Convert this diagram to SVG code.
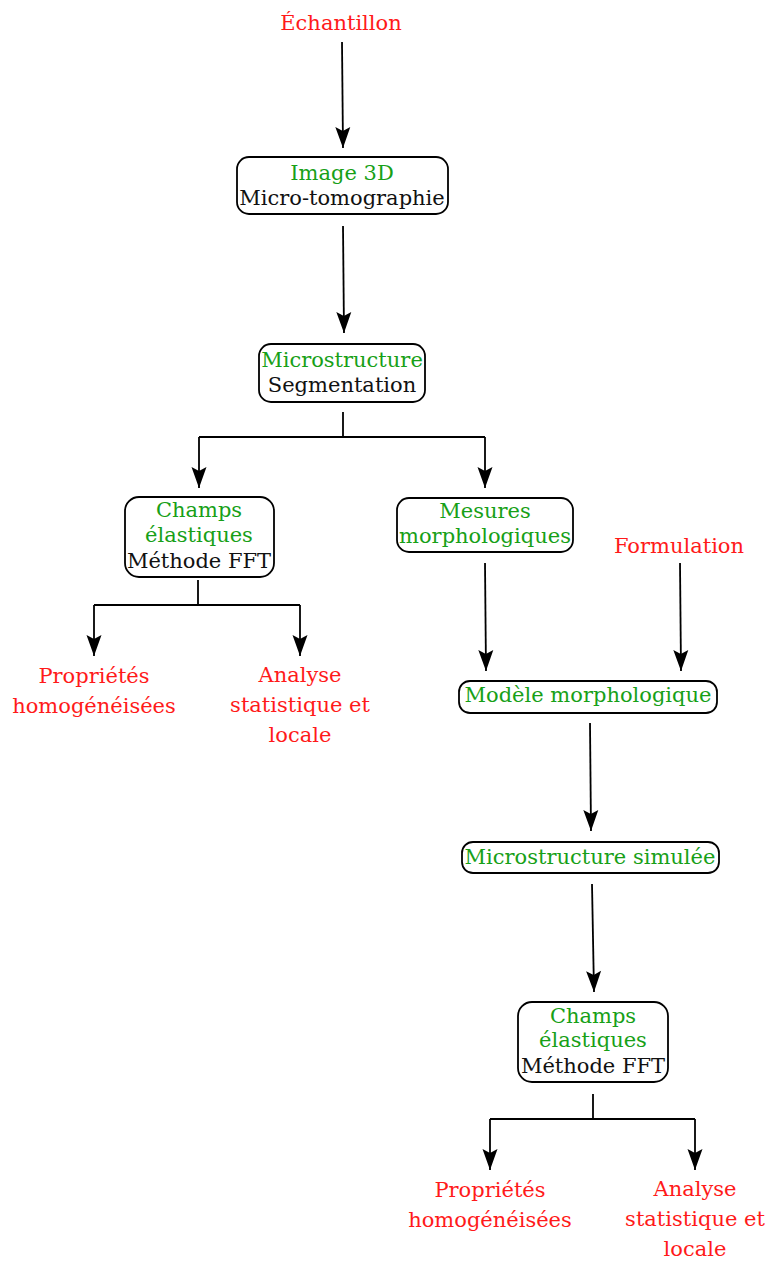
<svg xmlns="http://www.w3.org/2000/svg" width="768" height="1262" viewBox="0 0 768 1262">
<style>
text{font-family:"DejaVu Serif","Liberation Serif",serif;font-size:21px;text-anchor:middle}
.r{fill:#ff1a1a}.g{fill:#17a017}.k{fill:#111}
rect{fill:#fff;stroke:#000;stroke-width:1.8}
.c line,.c path{stroke:#000;stroke-width:1.8;fill:none}
</style>
<defs>
<marker id="ah" markerUnits="userSpaceOnUse" markerWidth="22" markerHeight="16" refX="21" refY="8" orient="auto" overflow="visible">
<path d="M0,0.5 L21,8 L0,15.5 L4,8 Z" fill="#000" stroke="none"/>
</marker>
</defs>
<g class="c" id="connectors">
<line x1="342" y1="42" x2="343" y2="148" marker-end="url(#ah)"/>
<line x1="343" y1="226" x2="344" y2="333" marker-end="url(#ah)"/>
<path d="M343,412 V437"/>
<path d="M199,437 H485"/>
<line x1="199" y1="437" x2="199" y2="488" marker-end="url(#ah)"/>
<line x1="485" y1="437" x2="485" y2="488" marker-end="url(#ah)"/>
<path d="M198,580 V605 M94,605 H300"/>
<line x1="94" y1="605" x2="94" y2="656" marker-end="url(#ah)"/>
<line x1="300" y1="605" x2="300" y2="656" marker-end="url(#ah)"/>
<line x1="485" y1="563" x2="486" y2="671" marker-end="url(#ah)"/>
<line x1="680" y1="563" x2="681" y2="671" marker-end="url(#ah)"/>
<line x1="590" y1="723" x2="591" y2="831" marker-end="url(#ah)"/>
<line x1="592" y1="884" x2="594" y2="992" marker-end="url(#ah)"/>
<path d="M593,1094 V1119 M490,1119 H695"/>
<line x1="490" y1="1119" x2="490" y2="1170" marker-end="url(#ah)"/>
<line x1="695" y1="1119" x2="695" y2="1170" marker-end="url(#ah)"/>
</g>
<g id="echantillon"><text class="r" x="341" y="30">Échantillon</text></g>
<g id="image3d"><rect x="237" y="157" width="211" height="57" rx="12"/><text class="g" x="342" y="180">Image 3D</text><text class="k" x="342" y="205">Micro-tomographie</text></g>
<g id="microstructure"><rect x="259" y="344" width="166" height="58" rx="12"/><text class="g" x="342" y="367">Microstructure</text><text class="k" x="342" y="392">Segmentation</text></g>
<g id="champs1"><rect x="125" y="497" width="149" height="80" rx="14"/><text class="g" x="199" y="517">Champs</text><text class="g" x="199" y="542">élastiques</text><text class="k" x="199" y="568">Méthode FFT</text></g>
<g id="mesures"><rect x="397" y="498" width="176" height="54" rx="12"/><text class="g" x="485" y="518">Mesures</text><text class="g" x="485" y="543">morphologiques</text></g>
<g id="formulation"><text class="r" x="679" y="553">Formulation</text></g>
<g id="proprietes1"><text class="r" x="94" y="683">Propriétés</text><text class="r" x="94" y="713">homogénéisées</text></g>
<g id="analyse1"><text class="r" x="300" y="682">Analyse</text><text class="r" x="300" y="712">statistique et</text><text class="r" x="300" y="742">locale</text></g>
<g id="modele"><rect x="459" y="681" width="258" height="32" rx="11"/><text class="g" x="588" y="702">Modèle morphologique</text></g>
<g id="simulee"><rect x="462" y="842" width="257" height="31" rx="11"/><text class="g" x="590" y="864">Microstructure simulée</text></g>
<g id="champs2"><rect x="518" y="1002" width="150" height="80" rx="14"/><text class="g" x="593" y="1023">Champs</text><text class="g" x="593" y="1047">élastiques</text><text class="k" x="593" y="1073">Méthode FFT</text></g>
<g id="proprietes2"><text class="r" x="490" y="1197">Propriétés</text><text class="r" x="490" y="1227">homogénéisées</text></g>
<g id="analyse2"><text class="r" x="695" y="1196">Analyse</text><text class="r" x="695" y="1226">statistique et</text><text class="r" x="695" y="1256">locale</text></g>
</svg>
